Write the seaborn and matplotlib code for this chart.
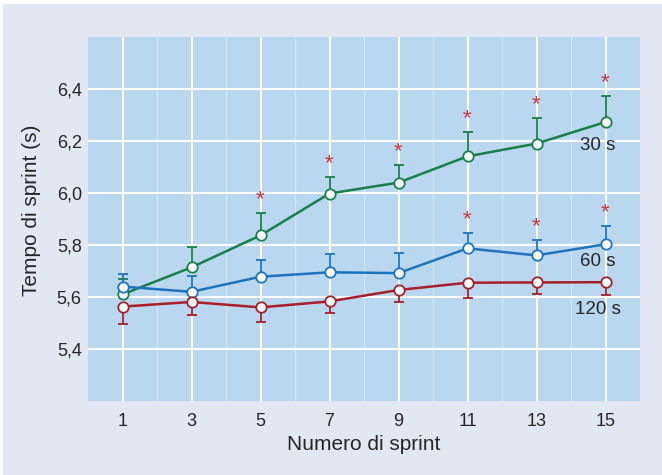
import matplotlib
matplotlib.use("Agg")
import matplotlib.pyplot as plt
import seaborn as sns
import pandas as pd
from matplotlib.patches import Rectangle

sprints = [1, 3, 5, 7, 9, 11, 13, 15]
t30 = [5.61, 5.714, 5.837, 5.998, 6.040, 6.141, 6.190, 6.273]
t30_err = [0.06, 0.077, 0.087, 0.062, 0.068, 0.094, 0.099, 0.101]
t60 = [5.64, 5.620, 5.678, 5.695, 5.692, 5.787, 5.760, 5.803]
t60_err = [0.05, 0.061, 0.063, 0.069, 0.076, 0.060, 0.060, 0.069]
t120 = [5.563, 5.581, 5.560, 5.583, 5.627, 5.655, 5.656, 5.657]
t120_err = [0.065, 0.051, 0.056, 0.045, 0.046, 0.057, 0.045, 0.048]
star30 = [5, 7, 9, 11, 13, 15]
star60 = [11, 13, 15]
labels = ["30 s", "60 s", "120 s"]
label_y = [6.184, 5.737, 5.55]
yticks = [5.4, 5.6, 5.8, 6.0, 6.2, 6.4]
ytick_labels = ["5,4", "5,6", "5,8", "6,0", "6,2", "6,4"]

green = "#17804a"
blue = "#1b74bd"
red = "#a81e2a"
star_col = "#d2313a"
text_col = "#262626"

sns.set_theme(style="white")
plt.rcParams["font.family"] = ["Liberation Sans", "DejaVu Sans"]

fig = plt.figure(figsize=(6.62, 4.75), dpi=100)
fig.patch.set_facecolor("white")
fig.patches.append(Rectangle((3 / 662, 0), 1, 1 - 4 / 475, transform=fig.transFigure,
                             facecolor="#e1e8f3", edgecolor="none", zorder=-10))
ax = fig.add_axes([88 / 662, 1 - 401 / 475, (640 - 88) / 662, (401 - 37) / 475])
ax.set_zorder(5)
ax.set_facecolor("#b9d7ee")

df = pd.DataFrame({
    "sprint": sprints * 3,
    "tempo": t30 + t60 + t120,
    "gruppo": ["30 s"] * 8 + ["60 s"] * 8 + ["120 s"] * 8,
})
pal = {"30 s": green, "60 s": blue, "120 s": red}

# error bars (one-sided)
ax.errorbar(sprints, t30, yerr=[[0] * 8, t30_err], fmt="none", ecolor=green,
            elinewidth=1.3, capsize=3.5, capthick=1.3, zorder=2)
ax.errorbar(sprints, t60, yerr=[[0] * 8, t60_err], fmt="none", ecolor=blue,
            elinewidth=1.3, capsize=3.5, capthick=1.3, zorder=2)
ax.errorbar(sprints, t120, yerr=[t120_err, [0] * 8], fmt="none", ecolor=red,
            elinewidth=1.3, capsize=3.5, capthick=1.3, zorder=2)

n_before = len(ax.lines)
sns.lineplot(data=df, x="sprint", y="tempo", hue="gruppo", palette=pal,
             marker="o", markersize=7.5, markerfacecolor="white",
             markeredgewidth=1.3, linewidth=1.8, legend=False, ax=ax, zorder=3)
for line in ax.lines[n_before:]:
    line.set_markeredgecolor(line.get_color())

for xs, vals, errs in [(star30, t30, t30_err), (star60, t60, t60_err)]:
    for x in xs:
        i = sprints.index(x)
        ax.annotate("*", xy=(x, vals[i] + errs[i]), xytext=(0, 2),
                    textcoords="offset points", ha="center", va="bottom",
                    color=star_col, fontsize=16)

for lab, ly in zip(labels, label_y):
    ax.text(14.78, ly, lab, ha="center", va="center", fontsize=13.5, color=text_col)

ax.set_xlim(0, 16)
ax.set_ylim(5.2, 6.6)
ax.set_xticks(sprints)
ax.set_xticks([2, 4, 6, 8, 10, 12, 14], minor=True)
ax.set_yticks(yticks)
ax.set_yticklabels(ytick_labels)
ax.grid(True, which="major", color="white", linewidth=1.5)
ax.grid(True, which="minor", axis="x", color="#cde5f6", linewidth=1.0)
ax.set_axisbelow(True)
ax.tick_params(axis="both", which="both", length=0, labelsize=13, colors=text_col)
ax.tick_params(axis="y", pad=4.5)
ax.tick_params(axis="x", pad=8.5)
for s in ax.spines.values():
    s.set_visible(False)
ax.set_xlabel("Numero di sprint", fontsize=15, color=text_col, va="center")
ax.set_ylabel("Tempo di sprint (s)", fontsize=15, color=text_col, va="center")
ax.xaxis.set_label_coords(0.5, (401 - 445) / 364)
ax.yaxis.set_label_coords((32 - 88) / 552, 1 - (210 - 37) / 364)

fig.savefig("out.png", dpi=100, facecolor=fig.get_facecolor())
